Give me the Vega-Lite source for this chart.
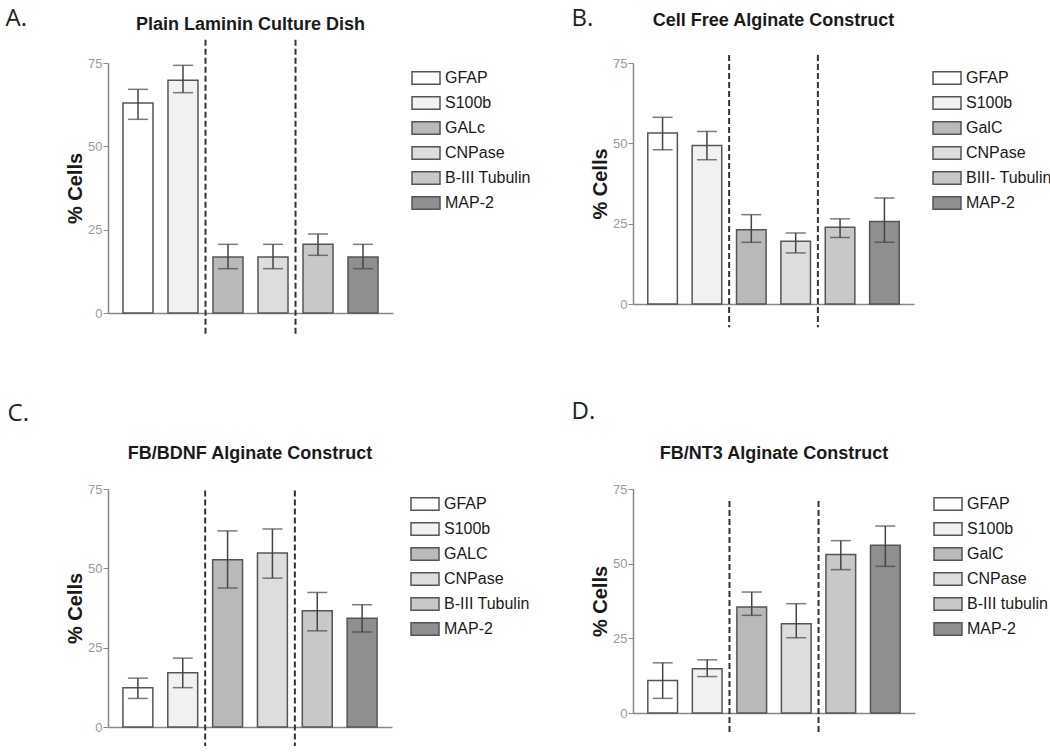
{
  "$schema": "https://vega.github.io/schema/vega-lite/v6.json",
  "background": "white",
  "padding": {"left": 5, "top": 6, "right": 0, "bottom": 0},
  "config": {
    "view": {"stroke": null},
    "font": "Liberation Sans",
    "title": {"font": "Liberation Sans", "fontSize": 18, "fontWeight": "bold", "color": "#1a1a1a"},
    "axisY": {"grid": false, "labelColor": "#9a9a9a", "labelFontSize": 13, "labelFont": "Liberation Sans", "titleFont": "Liberation Sans", "titleFontSize": 20, "titleFontWeight": "bold", "titleColor": "#1a1a1a", "tickColor": "#888", "tickSize": 5, "domainColor": "#888", "domainWidth": 1.5, "labelPadding": 1, "titlePadding": 2},
    "axisX": {"title": null, "labels": false, "ticks": false, "grid": false, "domainColor": "#888", "domainWidth": 1.5},
    "legend": {"title": null, "orient": "right", "offset": 18, "symbolType": "M-1,-0.45H1V0.45H-1Z", "symbolSize": 784, "symbolStrokeColor": "#555", "symbolStrokeWidth": 1, "labelFontSize": 16, "labelFont": "Liberation Sans", "labelColor": "#1a1a1a", "labelOffset": 4, "rowPadding": 0, "padding": 0},
    "bar": {"stroke": "#555", "strokeWidth": 1.5},
    "tick": {"color": "#444", "thickness": 1.5}
  },
  "datasets": {
    "A": [
      {"marker": "GFAP", "pct": 63, "lo": 58.1, "hi": 67.1},
      {"marker": "S100b", "pct": 69.8, "lo": 66.1, "hi": 74.3},
      {"marker": "GALc", "pct": 16.8, "lo": 13.3, "hi": 20.6},
      {"marker": "CNPase", "pct": 16.8, "lo": 13.3, "hi": 20.6},
      {"marker": "B-III Tubulin", "pct": 20.6, "lo": 17.3, "hi": 23.7},
      {"marker": "MAP-2", "pct": 16.8, "lo": 13.3, "hi": 20.6}
    ],
    "B": [
      {"marker": "GFAP", "pct": 53.2, "lo": 48.0, "hi": 58.1},
      {"marker": "S100b", "pct": 49.3, "lo": 44.9, "hi": 53.7},
      {"marker": "GalC", "pct": 23.1, "lo": 19.2, "hi": 27.8},
      {"marker": "CNPase", "pct": 19.5, "lo": 15.9, "hi": 22.1},
      {"marker": "BIII- Tubulin", "pct": 23.9, "lo": 20.7, "hi": 26.5},
      {"marker": "MAP-2", "pct": 25.7, "lo": 19.2, "hi": 33.0}
    ],
    "C": [
      {"marker": "GFAP", "pct": 12.4, "lo": 9.0, "hi": 15.4},
      {"marker": "S100b", "pct": 17.1, "lo": 12.4, "hi": 21.7},
      {"marker": "GALC", "pct": 52.7, "lo": 43.8, "hi": 61.8},
      {"marker": "CNPase", "pct": 54.8, "lo": 46.9, "hi": 62.4},
      {"marker": "B-III Tubulin", "pct": 36.6, "lo": 30.3, "hi": 42.4},
      {"marker": "MAP-2", "pct": 34.3, "lo": 29.9, "hi": 38.5}
    ],
    "D": [
      {"marker": "GFAP", "pct": 10.9, "lo": 4.9, "hi": 16.8},
      {"marker": "S100b", "pct": 14.8, "lo": 12.2, "hi": 17.8},
      {"marker": "GalC", "pct": 35.5, "lo": 32.7, "hi": 40.5},
      {"marker": "CNPase", "pct": 29.9, "lo": 25.2, "hi": 36.6},
      {"marker": "B-III tubulin", "pct": 53.1, "lo": 48.0, "hi": 57.7},
      {"marker": "MAP-2", "pct": 56.2, "lo": 49.1, "hi": 62.6}
    ],
    "dividers": [{"after": "S100b"}, {"after": "CNPase"}]
  },
  "columns": 2,
  "spacing": {"row": 62, "column": 40},
  "resolve": {"scale": {"fill": "independent", "x": "independent", "y": "independent"}, "legend": {"fill": "independent"}},
  "concat": [
    {
      "title": {"text": "A.", "anchor": "start", "font": "Open Sans", "fontSize": 24, "fontWeight": "normal", "color": "#222", "dx": -60, "dy": 19},
      "vconcat": [{
        "title": {"text": "Plain Laminin Culture Dish", "offset": 5},
        "width": 285, "height": 250,
        "data": {"name": "A"},
        "encoding": {"x": {"field": "marker", "type": "nominal", "scale": {"domain": ["GFAP", "S100b", "GALc", "CNPase", "B-III Tubulin", "MAP-2"], "paddingInner": 0.333, "paddingOuter": 0.333}}},
        "layer": [
          {"mark": "bar", "encoding": {
            "y": {"field": "pct", "type": "quantitative", "title": "% Cells", "scale": {"domain": [0, 75], "nice": false}, "axis": {"values": [0, 25, 50, 75]}},
            "fill": {"field": "marker", "type": "nominal", "scale": {"domain": ["GFAP", "S100b", "GALc", "CNPase", "B-III Tubulin", "MAP-2"], "range": ["#ffffff", "#f1f1f1", "#b9b9b9", "#dddddd", "#c8c8c8", "#8f8f8f"]}}}},
          {"mark": {"type": "rule", "color": "#444", "strokeWidth": 1.5}, "encoding": {"y": {"field": "lo", "type": "quantitative", "title": "% Cells", "scale": {"domain": [0, 75], "nice": false}}, "y2": {"field": "hi"}}},
          {"mark": {"type": "tick", "orient": "horizontal", "size": 20}, "encoding": {"y": {"field": "lo", "type": "quantitative", "title": "% Cells", "scale": {"domain": [0, 75], "nice": false}}}},
          {"mark": {"type": "tick", "orient": "horizontal", "size": 20}, "encoding": {"y": {"field": "hi", "type": "quantitative", "title": "% Cells", "scale": {"domain": [0, 75], "nice": false}}}},
          {"data": {"name": "dividers"}, "mark": {"type": "rule", "strokeDash": [6, 3], "strokeWidth": 2, "color": "#333"}, "encoding": {"x": {"field": "after", "type": "nominal", "bandPosition": 1.25}, "y": {"datum": 82, "type": "quantitative", "title": "% Cells", "scale": {"domain": [0, 75], "nice": false}}, "y2": {"datum": -7}}}
        ]
      }]
    },
    {
      "title": {"text": "B.", "anchor": "start", "font": "Open Sans", "fontSize": 24, "fontWeight": "normal", "color": "#222", "dx": -19, "dy": 23},
      "vconcat": [{
        "title": {"text": "Cell Free Alginate Construct", "offset": 24},
        "width": 281, "height": 241,
        "data": {"name": "B"},
        "encoding": {"x": {"field": "marker", "type": "nominal", "scale": {"domain": ["GFAP", "S100b", "GalC", "CNPase", "BIII- Tubulin", "MAP-2"], "paddingInner": 0.333, "paddingOuter": 0.333}}},
        "layer": [
          {"mark": "bar", "encoding": {
            "y": {"field": "pct", "type": "quantitative", "title": "% Cells", "scale": {"domain": [0, 75], "nice": false}, "axis": {"values": [0, 25, 50, 75]}},
            "fill": {"field": "marker", "type": "nominal", "scale": {"domain": ["GFAP", "S100b", "GalC", "CNPase", "BIII- Tubulin", "MAP-2"], "range": ["#ffffff", "#f1f1f1", "#b9b9b9", "#dddddd", "#c8c8c8", "#8f8f8f"]}}}},
          {"mark": {"type": "rule", "color": "#444", "strokeWidth": 1.5}, "encoding": {"y": {"field": "lo", "type": "quantitative", "title": "% Cells", "scale": {"domain": [0, 75], "nice": false}}, "y2": {"field": "hi"}}},
          {"mark": {"type": "tick", "orient": "horizontal", "size": 20}, "encoding": {"y": {"field": "lo", "type": "quantitative", "title": "% Cells", "scale": {"domain": [0, 75], "nice": false}}}},
          {"mark": {"type": "tick", "orient": "horizontal", "size": 20}, "encoding": {"y": {"field": "hi", "type": "quantitative", "title": "% Cells", "scale": {"domain": [0, 75], "nice": false}}}},
          {"data": {"name": "dividers"}, "mark": {"type": "rule", "strokeDash": [6, 3], "strokeWidth": 2, "color": "#333"}, "encoding": {"x": {"field": "after", "type": "nominal", "bandPosition": 1.25}, "y": {"datum": 77.5, "type": "quantitative", "title": "% Cells", "scale": {"domain": [0, 75], "nice": false}}, "y2": {"datum": -7.2}}}
        ]
      }]
    },
    {
      "title": {"text": "C.", "anchor": "start", "font": "Open Sans", "fontSize": 24, "fontWeight": "normal", "color": "#222", "dx": -58, "offset": 19},
      "vconcat": [{
        "title": {"text": "FB/BDNF Alginate Construct", "offset": 20},
        "width": 284, "height": 238,
        "data": {"name": "C"},
        "encoding": {"x": {"field": "marker", "type": "nominal", "scale": {"domain": ["GFAP", "S100b", "GALC", "CNPase", "B-III Tubulin", "MAP-2"], "paddingInner": 0.333, "paddingOuter": 0.333}}},
        "layer": [
          {"mark": "bar", "encoding": {
            "y": {"field": "pct", "type": "quantitative", "title": "% Cells", "scale": {"domain": [0, 75], "nice": false}, "axis": {"values": [0, 25, 50, 75]}},
            "fill": {"field": "marker", "type": "nominal", "scale": {"domain": ["GFAP", "S100b", "GALC", "CNPase", "B-III Tubulin", "MAP-2"], "range": ["#ffffff", "#f1f1f1", "#b9b9b9", "#dddddd", "#c8c8c8", "#8f8f8f"]}}}},
          {"mark": {"type": "rule", "color": "#444", "strokeWidth": 1.5}, "encoding": {"y": {"field": "lo", "type": "quantitative", "title": "% Cells", "scale": {"domain": [0, 75], "nice": false}}, "y2": {"field": "hi"}}},
          {"mark": {"type": "tick", "orient": "horizontal", "size": 20}, "encoding": {"y": {"field": "lo", "type": "quantitative", "title": "% Cells", "scale": {"domain": [0, 75], "nice": false}}}},
          {"mark": {"type": "tick", "orient": "horizontal", "size": 20}, "encoding": {"y": {"field": "hi", "type": "quantitative", "title": "% Cells", "scale": {"domain": [0, 75], "nice": false}}}},
          {"data": {"name": "dividers"}, "mark": {"type": "rule", "strokeDash": [6, 3], "strokeWidth": 2, "color": "#333"}, "encoding": {"x": {"field": "after", "type": "nominal", "bandPosition": 1.25}, "y": {"datum": 74.5, "type": "quantitative", "title": "% Cells", "scale": {"domain": [0, 75], "nice": false}}, "y2": {"datum": -6}}}
        ]
      }]
    },
    {
      "title": {"text": "D.", "anchor": "start", "font": "Open Sans", "fontSize": 24, "fontWeight": "normal", "color": "#222", "dx": -19, "offset": 21},
      "vconcat": [{
        "title": {"text": "FB/NT3 Alginate Construct", "offset": 20},
        "width": 282, "height": 224,
        "data": {"name": "D"},
        "encoding": {"x": {"field": "marker", "type": "nominal", "scale": {"domain": ["GFAP", "S100b", "GalC", "CNPase", "B-III tubulin", "MAP-2"], "paddingInner": 0.333, "paddingOuter": 0.333}}},
        "layer": [
          {"mark": "bar", "encoding": {
            "y": {"field": "pct", "type": "quantitative", "title": "% Cells", "scale": {"domain": [0, 75], "nice": false}, "axis": {"values": [0, 25, 50, 75]}},
            "fill": {"field": "marker", "type": "nominal", "scale": {"domain": ["GFAP", "S100b", "GalC", "CNPase", "B-III tubulin", "MAP-2"], "range": ["#ffffff", "#f1f1f1", "#b9b9b9", "#dddddd", "#c8c8c8", "#8f8f8f"]}}}},
          {"mark": {"type": "rule", "color": "#444", "strokeWidth": 1.5}, "encoding": {"y": {"field": "lo", "type": "quantitative", "title": "% Cells", "scale": {"domain": [0, 75], "nice": false}}, "y2": {"field": "hi"}}},
          {"mark": {"type": "tick", "orient": "horizontal", "size": 20}, "encoding": {"y": {"field": "lo", "type": "quantitative", "title": "% Cells", "scale": {"domain": [0, 75], "nice": false}}}},
          {"mark": {"type": "tick", "orient": "horizontal", "size": 20}, "encoding": {"y": {"field": "hi", "type": "quantitative", "title": "% Cells", "scale": {"domain": [0, 75], "nice": false}}}},
          {"data": {"name": "dividers"}, "mark": {"type": "rule", "strokeDash": [6, 3], "strokeWidth": 2, "color": "#333"}, "encoding": {"x": {"field": "after", "type": "nominal", "bandPosition": 1.25}, "y": {"datum": 71, "type": "quantitative", "title": "% Cells", "scale": {"domain": [0, 75], "nice": false}}, "y2": {"datum": -6.5}}}
        ]
      }]
    }
  ]
}
